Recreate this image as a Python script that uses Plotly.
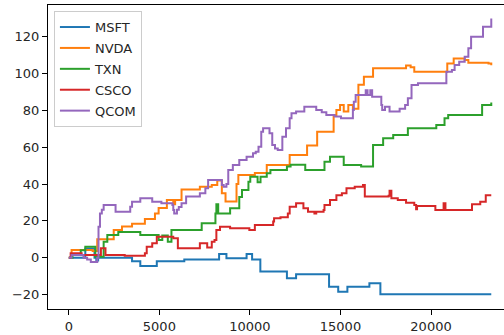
import plotly.graph_objects as go

# Tick labels
x_ticks = [0, 5000, 10000, 15000, 20000]
x_ticktext = ["0", "5000", "10000", "15000", "20000"]
y_ticks = [-20, 0, 20, 40, 60, 80, 100, 120]
y_ticktext = ["\u221220", "0", "20", "40", "60", "80", "100", "120"]

# Series (sample index, cumulative value)
msft_x = [0, 910, 1417, 1518, 1619, 3491, 3947, 4858,
          6376, 8298, 8703, 9816, 10120, 10575, 12043, 12549,
          14370, 14876, 15382, 16597, 17204, 23327]
msft_y = [0, 5, 0, -1.5, 0, -2, -4.5, -2,
          -1, 2, -0.3, 2, -1, -7.5, -11.2, -9,
          -15.8, -18.5, -15.8, -13.9, -19.9, -19.9]

nvda_x = [0, 152, 1316, 1569, 2479, 2935, 3491, 4200,
          4756, 4959, 5414, 5768, 5870, 6224, 7236, 7894,
          8197, 8450, 8653, 9260, 9361, 10272, 10930, 12195,
          13156, 13713, 14623, 14775, 14978, 15180, 15433, 15686,
          15990, 16293, 16799, 18621, 18874, 19076, 20898,
          21252, 21859, 22062, 23175, 23327]
nvda_y = [0, 4.2, 3.6, 10, 15, 17, 18.5, 21,
          24, 27, 31.4, 29, 31.4, 37, 38.5, 39.5,
          42, 35, 30.5, 40, 45, 46, 50.4, 55.8,
          61, 68.5, 77.6, 80.3, 83, 79.4, 83, 81,
          94, 98.4, 103, 104.5, 103.5, 101, 105.6,
          108.3, 107.5, 106, 105.6, 104.6]

txn_x = [0, 202, 658, 911, 1467, 1923, 2125, 2732,
         3947, 4959, 5161, 5465, 5667, 7337, 8096, 8147,
         8248, 8906, 9412, 9563, 9918, 10019, 10424, 10585,
         10930, 11132, 12043, 12245, 13055, 14117, 14421, 15180,
         16141, 16799, 17356, 17912, 18722, 20291, 20746, 20948,
         22821, 23327]
txn_y = [0, 2, 4, 6, 0.5, 8.7, 12.3, 14,
         12.3, 9.6, 12, 8.7, 15, 18.7, 24, 29,
         24, 26.8, 33, 36.8, 41.3, 44, 41, 44,
         45.9, 47.7, 49.5, 50.5, 47.7, 52.2, 54.9, 50.4,
         49.5, 61.2, 64.9, 66.7, 70.3, 72.1, 75.8, 77.6,
         83, 84.3]

csco_x = [0, 101, 708, 1771, 2024, 3087, 4200, 4301,
          4605, 4858, 5768, 6021, 7236, 7641, 7894, 8045,
          8147, 8349, 8906, 9968, 10272, 11284, 11334, 11689,
          12093, 12195, 12549, 12954, 13207, 13561, 13662, 14067,
          14117, 14421, 14775, 15079, 15332, 15787, 16243, 16344,
          17659, 17710, 17811, 18165, 18621, 19076, 19177, 19228,
          20240, 20695, 20797, 22264, 22719, 23023, 23327]
csco_y = [0, 2.4, 1.5, 5.1, 1.5, 1.1, 2.4, 6,
          7.8, 11.4, 10.5, 5.1, 7.8, 5.5, 8.7, 9.6,
          15, 16.8, 16, 15, 17.8, 19.6, 21.4, 22,
          24, 27.7, 29.6, 26.9, 25, 24, 25, 25.9,
          28.6, 31.4, 34, 35, 37.7, 38.6, 39.5, 33.2,
          33.7, 36.4, 32.3, 31.4, 29.9, 28.6, 26.3, 28.1,
          25.9, 29.6, 25.9, 29, 30.4, 34, 34]

qcom_x = [0, 152, 810, 1012, 1214, 1518, 1569, 1639,
          1720, 1822, 1923, 2581, 3390, 3491, 3947, 4605,
          5111, 5718, 5768, 5819, 5971, 6072, 6224, 6477,
          7236, 7539, 7691, 8450, 8551, 8703, 8804, 9057,
          9412, 9816, 10171, 10322, 10474, 10626, 10727, 11081,
          11233, 11385, 11537, 11790, 11992, 12195, 12296, 12549,
          13004, 13662, 13966, 14219, 14674, 15028, 15686, 15737,
          15838, 16394, 16496, 16647, 16749, 17255, 17305, 17457,
          17710, 18267, 18570, 18722, 18924, 19279, 20847, 21155,
          21303, 21556, 21859, 22062, 22213, 22871, 23327]
qcom_y = [0, 1.5, 0, -1, -2.3, -2.3, 0, 16.8,
          24, 26, 28.6, 25, 27.7, 30.4, 32.3, 30.4,
          29.6, 28.6, 25.9, 24, 26, 27.5, 29.6, 33.2,
          35, 37.7, 42.2, 39.5, 38.6, 40, 47.7, 50.4,
          53.1, 54.9, 56.7, 57.6, 60.3, 68.5, 70.3, 67.6,
          61.2, 59.4, 58.5, 65.8, 70.3, 75.8, 78.5, 79.4,
          82.1, 80.3, 79, 77.6, 76.7, 75.8, 80.3, 84.8,
          88.4, 91, 88.4, 91, 87.5, 83, 80.3, 82,
          79.4, 81, 83, 86.6, 93.9, 94.8, 101, 102,
          104.7, 106.5, 109.2, 113.8, 120.1, 125.5, 130]

series = [
    ("MSFT", msft_x, msft_y, "#1f77b4"),
    ("NVDA", nvda_x, nvda_y, "#ff7f0e"),
    ("TXN", txn_x, txn_y, "#2ca02c"),
    ("CSCO", csco_x, csco_y, "#d62728"),
    ("QCOM", qcom_x, qcom_y, "#9467bd"),
]

fig = go.Figure()
for name, xs, ys, color in series:
    fig.add_trace(go.Scatter(
        x=xs, y=ys, name=name, mode="lines", legendgroup=name,
        line=dict(color=color, width=2, shape="hv"),
    ))

fig.update_layout(
    width=504, height=335,
    margin=dict(l=48, r=0, t=5, b=26),
    plot_bgcolor="white", paper_bgcolor="white",
    font=dict(family="DejaVu Sans", size=13, color="#262626"),
    showlegend=True,
    legend=dict(
        x=0.013, y=0.98, xanchor="left", yanchor="top",
        bgcolor="rgba(255,255,255,0.8)", bordercolor="#cccccc", borderwidth=1,
        font=dict(family="DejaVu Sans", size=13, color="#262626"),
        tracegroupgap=1, itemwidth=30,
    ),
)
fig.update_xaxes(
    range=[-1150, 24030], tickvals=x_ticks, ticktext=x_ticktext,
    showline=True, linecolor="black", linewidth=1, mirror=True,
    ticks="outside", ticklen=5, tickcolor="black", tickwidth=1,
    showgrid=False, zeroline=False,
)
fig.update_yaxes(
    range=[-27.9, 137.35], tickvals=y_ticks, ticktext=y_ticktext,
    showline=True, linecolor="black", linewidth=1, mirror=False,
    ticks="outside", ticklen=5, tickcolor="black", tickwidth=1,
    showgrid=False, zeroline=False,
)

fig.write_html("out.html")
